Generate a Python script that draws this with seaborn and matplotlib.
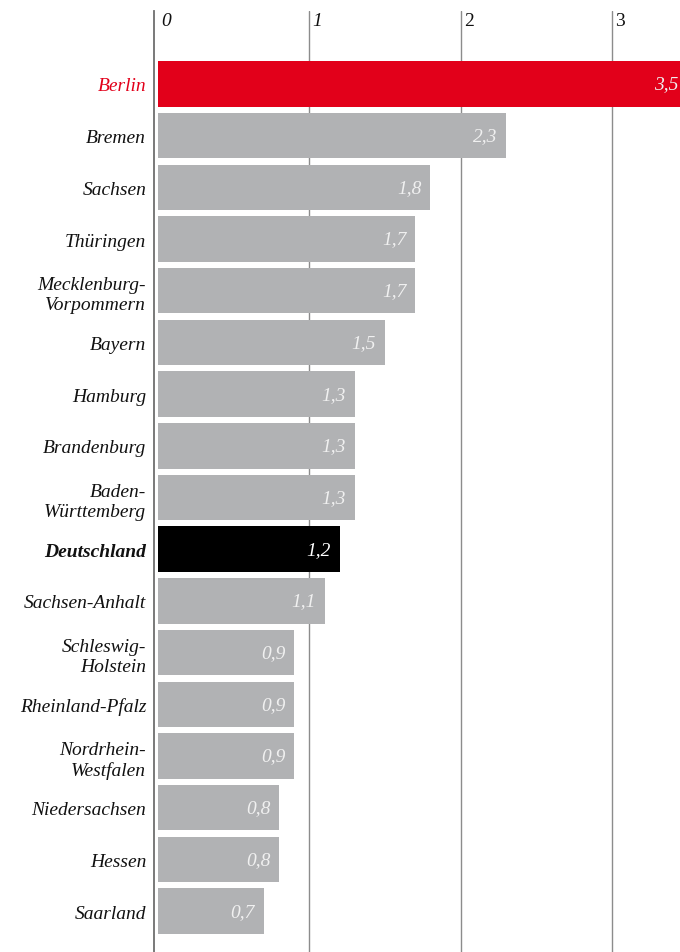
import matplotlib
matplotlib.use("Agg")
import matplotlib.pyplot as plt
import seaborn as sns
import pandas as pd
from matplotlib.transforms import ScaledTranslation

# Bundesländer und Werte
laender = ["Berlin", "Bremen", "Sachsen", "Thüringen", "Mecklenburg-\nVorpommern",
           "Bayern", "Hamburg", "Brandenburg", "Baden-\nWürttemberg", "Deutschland",
           "Sachsen-Anhalt", "Schleswig-\nHolstein", "Rheinland-Pfalz",
           "Nordrhein-\nWestfalen", "Niedersachsen", "Hessen", "Saarland"]
werte = [3.5, 2.3, 1.8, 1.7, 1.7, 1.5, 1.3, 1.3, 1.3, 1.2, 1.1, 0.9, 0.9, 0.9, 0.8, 0.8, 0.7]
achsen_ticks = [0, 1, 2, 3]
tick_texte = ["0", "1", "2", "3"]

ROT = "#e2001a"
GRAU = "#b1b2b4"
SCHWARZ = "#000000"
farben = {l: GRAU for l in laender}
farben["Berlin"] = ROT
farben["Deutschland"] = SCHWARZ

sns.set_theme(style="white")
plt.rcParams["font.family"] = ["Liberation Serif", "DejaVu Serif"]
FS = 14

W, H = 680, 953
fig = plt.figure(figsize=(W / 100, H / 100), dpi=100)

null_px = 158.2      # pixel position of value 0
px_je_einheit = 151.25
xmin = -0.03
links = (null_px + xmin * px_je_einheit) / W
ax = fig.add_axes([links, 0, 1 - links, 1 - 12 / H])

df = pd.DataFrame({"land": laender, "wert": werte})
sns.barplot(data=df, x="wert", y="land", hue="land", palette=farben, legend=False,
            width=0.88, saturation=1, orient="h", linewidth=0, edgecolor="none", ax=ax)

ax.set_xlim(xmin, (W - null_px) / px_je_einheit)
ax.set_ylim(16.79, -1.41)
ax.set_xlabel("")
ax.set_ylabel("")

# Spines: only the left one, shifted slightly left of zero
for s in ["top", "right", "bottom"]:
    ax.spines[s].set_visible(False)
ax.spines["left"].set_position(("data", -0.0245))
ax.spines["left"].set_color("#6e6e6e")
ax.spines["left"].set_linewidth(1.3)

# Vertical grid lines at 1, 2, 3
ax.set_xticks(achsen_ticks)
ax.set_xticklabels(tick_texte)
ax.xaxis.tick_top()
ax.set_axisbelow(True)
ax.xaxis.grid(True, color="#8c8c8c", linewidth=1.0)
ax.get_xgridlines()[0].set_visible(False)
ax.tick_params(axis="x", length=0, pad=-13, labelsize=FS, colors="#111111")
for i, lab in enumerate(ax.get_xticklabels()):
    lab.set_horizontalalignment("left")
    lab.set_style("italic" if i < 2 else "normal")
    lab.set_transform(lab.get_transform() + ScaledTranslation(3 / 100, 0, fig.dpi_scale_trans))

# Category labels
ax.tick_params(axis="y", length=0, pad=6, labelsize=FS)
for lab in ax.get_yticklabels():
    lab.set_style("italic")
    lab.set_linespacing(1.25)
    lab.set_color("#111111")
    t = lab.get_text()
    if t == "Berlin":
        lab.set_color(ROT)
    elif t == "Deutschland":
        lab.set_fontweight("bold")

# Value labels inside the bar ends
for cont in ax.containers:
    texte = [f"{v:.1f}".replace(".", ",") for v in cont.datavalues]
    dunkel = cont.patches[0].get_facecolor()[0] < 0.5
    anns = ax.bar_label(cont, labels=texte, padding=-6.5, fontsize=FS,
                        style="italic", color="#ffffff" if dunkel else "#f0f0f0")
    for a in anns:
        a.set_horizontalalignment("right")
        a.set_clip_on(False)
        a.set_annotation_clip(False)

fig.savefig("out.png", dpi=100)
